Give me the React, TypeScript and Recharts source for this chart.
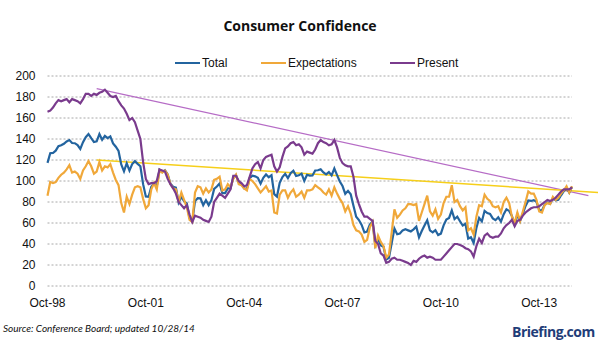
import React from "react";
import { LineChart, Line, CartesianGrid, XAxis, YAxis, ReferenceLine } from "recharts";

// monthly, Oct-98 .. Oct-14
const total = [
  117.3, 126.4, 126.7,
  128.9, 133.1, 134.0, 135.5, 137.7, 139.0, 136.2, 136.0, 134.2, 130.5, 137.0, 141.7,
  144.7, 140.8, 137.1, 137.7, 144.7, 139.2, 143.0, 140.8, 142.5, 135.8, 132.6, 128.6,
  115.7, 109.2, 116.9, 109.9, 116.1, 118.9, 116.3, 114.0, 97.0, 85.3, 84.9, 94.6,
  97.8, 95.0, 110.7, 108.5, 110.3, 106.3, 97.4, 94.5, 93.7, 79.6, 84.9, 80.7,
  78.8, 64.8, 61.4, 81.0, 83.6, 83.5, 77.0, 81.7, 77.0, 81.7, 92.5, 94.8,
  97.7, 88.5, 88.5, 93.0, 93.1, 102.8, 105.7, 98.7, 96.7, 92.9, 92.6, 102.7,
  105.1, 104.4, 103.0, 97.5, 103.1, 106.2, 103.6, 105.5, 87.5, 85.2, 98.3, 103.8,
  106.8, 102.7, 107.5, 109.8, 104.7, 105.4, 107.0, 100.2, 105.9, 105.1, 105.3, 110.0,
  110.2, 111.2, 108.2, 106.3, 108.5, 105.3, 111.9, 105.6, 99.5, 95.2, 87.8, 90.6,
  87.3, 76.4, 65.9, 62.8, 58.1, 51.0, 51.9, 58.5, 61.4, 38.8, 44.7, 38.6,
  37.4, 25.3, 26.9, 40.8, 54.8, 49.3, 50.0, 53.0, 54.0, 53.0, 52.0, 54.0,
  56.5, 46.4, 52.3, 57.7, 62.7, 52.9, 51.0, 53.2, 48.6, 49.9, 57.8, 63.4,
  64.8, 72.0, 63.8, 66.0, 61.7, 57.6, 59.2, 45.2, 46.4, 40.9, 55.2, 64.8,
  61.5, 71.6, 69.5, 68.7, 64.4, 62.7, 65.4, 61.3, 68.4, 73.1, 71.5, 66.7,
  58.4, 68.0, 61.9, 69.0, 76.2, 81.4, 81.0, 81.8, 80.2, 72.4, 72.0, 77.5,
  79.4, 78.3, 83.9, 81.7, 82.2, 86.4, 90.3, 93.4, 89.0, 94.5,
];

const expectations = [
  86, 99, 98,
  99, 103, 106, 108, 111, 115, 108, 109, 107, 102, 110, 114,
  119, 114, 107, 109, 118, 110, 114, 113, 116, 108, 101, 96,
  79, 70, 85, 78, 87, 94, 95, 94, 83, 74, 77, 92,
  98, 92, 110, 108, 110, 106, 97, 93, 92, 80, 89, 82,
  75, 63, 61, 89, 95, 94, 88, 93, 89, 92, 101, 102,
  104, 91, 92, 97, 94, 102, 106, 97, 96, 93, 91, 102,
  100, 97, 93, 89, 92, 95, 90, 91, 70, 69, 87, 91,
  91, 84, 89, 92, 85, 87, 90, 84, 91, 91, 92, 96,
  94, 92, 89, 87, 92, 86, 94, 88, 83, 79, 71, 76,
  69, 58, 53, 52, 49, 42, 44, 56, 61, 36, 48, 42,
  38, 27, 30, 51, 73, 65, 68, 72, 74, 78, 78, 77,
  78, 62, 70, 78, 86, 71, 67, 73, 64, 68, 79, 85,
  85, 96, 80, 82, 76, 72, 75, 53, 55, 49, 66, 77,
  76, 87, 83, 81, 76, 75, 76, 70, 80, 84, 79, 66,
  60, 70, 62, 71, 80, 90, 88, 88, 82, 71, 70, 77,
  79, 78, 85, 82, 84, 88, 91, 95, 89, 95,
];

const present = [
  166, 167, 170,
  174, 177, 176, 177, 178, 175, 178, 177, 176, 174, 178, 183,
  183, 181, 183, 182, 184, 185, 187, 184, 181, 180, 181, 176,
  172, 169, 164, 158, 160, 156, 148, 140, 118, 102, 97, 98,
  98, 100, 111, 110, 109, 102, 97, 93, 88, 80, 77, 74,
  77, 68, 61, 67, 66, 65, 63, 62, 61, 66, 80, 84,
  88, 86, 84, 88, 92, 105, 105, 100, 98, 95, 96, 104,
  112, 116, 118, 112, 120, 123, 124, 125, 114, 109, 113, 123,
  131, 133, 136, 137, 134, 135, 132, 125, 128, 127, 126, 130,
  136, 139, 137, 136, 134, 135, 139, 132, 122, 117, 115, 114,
  114, 104, 86, 78, 71, 66, 66, 64, 62, 43, 40, 31,
  29, 22, 23, 26, 27, 25, 25, 24, 23, 22, 20, 24,
  23, 26, 28, 29, 27, 28, 27, 25, 25, 25, 28, 31,
  34, 37, 40, 40, 39, 38, 36, 35, 33, 28, 38, 45,
  41, 48, 50, 47, 46, 47, 47, 50, 55, 58, 60, 63,
  57, 62, 63, 67, 70, 72, 74, 75, 75, 76, 78, 80,
  82, 81, 82, 84, 87, 90, 92, 92, 92, 94,
];

const tickIdx = [0, 36, 72, 108, 144, 180];
const tickLabels = ["Oct-98", "Oct-01", "Oct-04", "Oct-07", "Oct-10", "Oct-13"];
const yTicks = [0, 20, 40, 60, 80, 100, 120, 140, 160, 180, 200];

// trend lines: [month index, value] start/end
const presentTrend = [
  [18, 188],
  [198, 86],
];
const expectTrend = [
  [18, 120],
  [202, 89],
];

const series = [
  { key: "total", name: "Total", color: "#23649f" },
  { key: "expectations", name: "Expectations", color: "#f0a83a" },
  { key: "present", name: "Present", color: "#7a3b8d" },
];

const rows = total.map((t, i) => ({
  i,
  total: t,
  expectations: expectations[i],
  present: present[i],
}));

const axisFont = { fontSize: 12, fill: "#111", fontFamily: "'Liberation Sans', Arial, sans-serif" };

const App: React.FC = () => {
  const legendLeft = [175, 261, 390];
  return (
    <div
      style={{
        position: "absolute",
        left: 0,
        top: 0,
        width: 598,
        height: 351,
        background: "#fff",
        fontFamily: "'Liberation Sans', Arial, sans-serif",
      }}
    >
      <div
        style={{
          position: "absolute",
          top: 16,
          left: 0,
          width: 600,
          textAlign: "center",
          fontFamily: "'Open Sans', sans-serif",
          fontWeight: 700,
          fontSize: 14,
          color: "#111",
        }}
      >
        Consumer Confidence
      </div>

      {series.map((s, k) => (
        <div
          key={s.key}
          style={{ position: "absolute", top: 56, left: legendLeft[k], display: "flex", alignItems: "center", fontSize: 12, color: "#111" }}
        >
          <span style={{ display: "inline-block", width: 25, height: 2.5, background: s.color, marginRight: 2 }} />
          {s.name}
        </div>
      ))}

      <LineChart width={598} height={351} data={rows} margin={{ top: 76, right: 26, bottom: 45, left: 7.5 }}>
        <CartesianGrid vertical={false} stroke="#a8a8a8" strokeDasharray="2 2" />
        <XAxis
          type="number"
          dataKey="i"
          domain={[0, 192]}
          ticks={tickIdx}
          interval={0}
          tickFormatter={(v: number) => tickLabels[tickIdx.indexOf(v)]}
          axisLine={false}
          tickLine={false}
          height={20}
          tick={{ ...axisFont, dy: 4 }}
        />
        <YAxis
          domain={[0, 200]}
          ticks={yTicks}
          interval={0}
          axisLine={false}
          tickLine={false}
          width={40}
          tick={{ ...axisFont, dx: -4 }}
        />
        <ReferenceLine
          segment={[
            { x: presentTrend[0][0], y: presentTrend[0][1] },
            { x: presentTrend[1][0], y: presentTrend[1][1] },
          ]}
          stroke="#b66cc6"
          strokeWidth={1.3}
          ifOverflow="visible"
        />
        <ReferenceLine
          segment={[
            { x: expectTrend[0][0], y: expectTrend[0][1] },
            { x: expectTrend[1][0], y: expectTrend[1][1] },
          ]}
          stroke="#f6cf1a"
          strokeWidth={1.5}
          ifOverflow="visible"
        />
        {series.map((s) => (
          <Line
            key={s.key}
            type="linear"
            dataKey={s.key}
            stroke={s.color}
            strokeWidth={2.2}
            dot={false}
            isAnimationActive={false}
          />
        ))}
      </LineChart>

      <div
        style={{
          position: "absolute",
          top: 322,
          left: 3,
          fontFamily: "Lato, sans-serif",
          fontStyle: "italic",
          fontSize: 10,
          color: "#111",
        }}
      >
        Source: Conference Board; updated 10/28/14
      </div>
      <div
        style={{
          position: "absolute",
          top: 322,
          left: 512,
          fontFamily: "'Open Sans', sans-serif",
          fontWeight: 700,
          fontSize: 14,
          letterSpacing: -0.5,
          color: "#1f3d78",
        }}
      >
        Briefing.com
      </div>
    </div>
  );
};

export default App;
